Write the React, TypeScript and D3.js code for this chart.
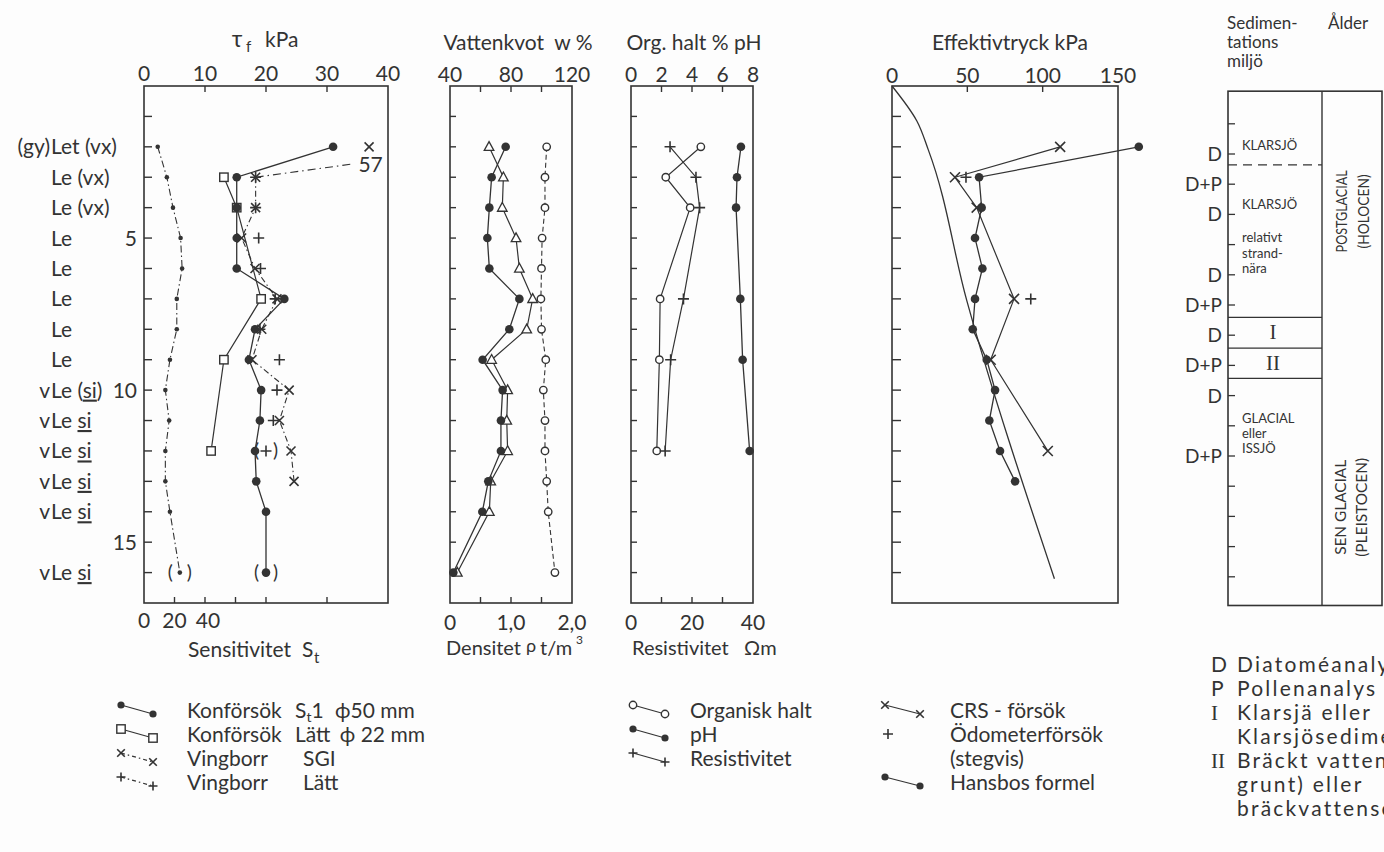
import React from "react";
import * as d3 from "d3";

const INK = "#333";
const FONT = "Lato, 'Open Sans', 'DejaVu Sans', sans-serif";
const SERIF = "'Liberation Serif', 'DejaVu Serif', serif";

// ---------- soil profile (depth, m) ----------
const soilDepths = [2, 3, 4, 5, 6, 7, 8, 9, 10, 11, 12, 13, 14, 16];
const soilLabels = [
  "(gy) Let (vx)", "Le (vx)", "Le (vx)", "Le", "Le", "Le", "Le", "Le",
  "vLe (_si_)", "vLe _si_", "vLe _si_", "vLe _si_", "vLe _si_", "vLe _si_",
];
const depthTickLabels = [5, 10, 15];
const depthTicks = [1, 2, 3, 4, 5, 6, 7, 8, 9, 10, 11, 12, 13, 14, 15, 16];

// ---------- panel 1: shear strength tau_f (kPa) and sensitivity ----------
const tauTicks = [0, 10, 20, 30, 40];
const sensTickLabels = [0, 20, 40];
const sensTicks = [20, 40, 60, 80, 120];
const sensDepths = [2, 3, 4, 5, 6, 7, 8, 9, 10, 11, 12, 13, 14, 16];
const sensValues = [9, 15, 19, 24, 25, 21.5, 21.5, 17, 14, 16.5, 14, 14, 17, 23.5];
const sensUncertainDepths = [16];
const kon50Depths = [2, 3, 4, 5, 6, 7, 8, 9, 10, 11, 12, 13, 14, 16];
const kon50Values = [31, 15.2, 15.2, 15.2, 15.2, 23, 18.2, 17.2, 19.2, 19, 18.2, 18.4, 20, 20];
const kon50UncertainDepths = [16];
const kon22Depths = [3, 4, 7, 9, 12];
const kon22Values = [13.1, 15.2, 19.2, 13.1, 11];
const sgiDepths = [3, 4, 5, 6, 7, 8, 9, 10, 11, 12, 13];
const sgiValues = [18.3, 18.3, 16, 18.2, 21.8, 19.3, 17.7, 23.8, 22.2, 24.1, 24.6];
const sgiOffScaleDepth = 2;
const sgiOffScaleValue = 57;
const lattDepths = [3, 4, 5, 6, 7, 8, 9, 10, 11, 12];
const lattValues = [18.3, 18.3, 18.8, 19.1, 21.5, 19, 22.2, 21.8, 21.2, 20];
const lattUncertainDepths = [12];

// ---------- panel 2: water content w % and density ----------
const wTickLabels = [40, 80, 120];
const wTicks = [60, 80, 100];
const rhoTickLabels = ["0", "1,0", "2,0"];
const rhoTickValues = [0, 1, 2];
const rhoTicks = [0.5, 1, 1.5];
const p2Depths = [2, 3, 4, 5, 6, 7, 8, 9, 10, 11, 12, 13, 14, 16];
const wValues = [76.5, 67.3, 65.8, 64.5, 65.8, 85.5, 78.9, 61.4, 74.5, 73.4, 73.4, 65.1, 61.2, 42.2];
const wLValues = [65.6, 75, 74.3, 83.3, 85.5, 94.2, 90.3, 67.3, 77.8, 77.2, 77.8, 66.7, 65.8, 44.8];
const rhoValues = [1.585, 1.557, 1.557, 1.51, 1.5, 1.49, 1.5, 1.57, 1.53, 1.557, 1.557, 1.585, 1.61, 1.72];

// ---------- panel 3: organic content, pH, resistivity ----------
const orgTickLabels = [0, 2, 4, 6, 8];
const orgTicks = [2, 4, 6];
const resTickLabels = [0, 20, 40];
const resTicks = [10, 20, 30];
const p3Depths = [2, 3, 4, 7, 9, 12];
const orgValues = [4.58, 2.28, 3.88, 1.91, 1.86, 1.69];
const phValues = [7.21, 6.95, 6.89, 7.17, 7.32, 7.78];
const resValues = [12.8, 21.3, 22.5, 17.2, 13, 11.2];

// ---------- panel 4: effective stress kPa ----------
const effTickLabels = [0, 50, 100, 150];
const effTicks = [50, 100];
const sigmaDepths = [0, 1.15, 2.1, 7.05, 16.2];
const sigmaValues = [0, 16.5, 24.1, 49.6, 107.8];
const hansDepths = [2, 3, 4, 5, 6, 7, 8, 9, 10, 11, 12, 13];
const hansValues = [163.8, 57.8, 59.5, 55.1, 60, 55.1, 53.6, 62.9, 68.4, 64.6, 71.7, 81.7];
const crsDepths = [2, 3, 4, 7, 9, 12];
const crsValues = [111.6, 41.8, 56.2, 81, 65.5, 103.4];
const oedDepths = [3, 7];
const oedValues = [49.1, 92.1];

// ---------- right panel: sedimentation environment / age ----------
const analysisDepths = [2, 3, 4, 6, 7, 8, 9, 10, 12];
const analysisLabels = ["D", "D+P", "D", "D", "D+P", "D", "D+P", "D", "D+P"];
const boundaryDepths = [2.36, 7.41, 8.43, 9.43];
const boundaryDashed = [true, false, false, false];
const envTexts = ["KLARSJÖ", "KLARSJÖ", "relativt", "strand-", "nära", "GLACIAL", "eller", "ISSJÖ"];
const envTextDepths = [1.7, 3.66, 4.75, 5.28, 5.78, 10.74, 11.24, 11.74];
const numeralTexts = ["I", "II"];
const numeralDepths = [7.9, 8.92];
const ageUpper = ["POSTGLACIAL", "(HOLOCEN)"];
const ageLower = ["SEN GLACIAL", "(PLEISTOCEN)"];
const ageUpperDepth = 3.9;
const ageLowerDepth = 13.7;

// ---------- legends ----------
const legend1Names = ["Konförsök", "Konförsök", "Vingborr", "Vingborr"];
const legend2Names = ["Organisk halt", "pH", "Resistivitet"];
const legend3Names = ["CRS - försök", "Ödometerförsök", "(stegvis)", "Hansbos formel"];
const legend4Symbols = ["D", "P", "I", "", "II", "", ""];
const legend4Texts = [
  "Diatoméanalys", "Pollenanalys", "Klarsjä eller", "Klarsjösediment",
  "Bräckt vatten (", "grunt) eller", "bräckvattensediment",
];

type P = [number, number];

const Dot = ({ x, y, r = 4.3 }: { x: number; y: number; r?: number }) => (
  <circle cx={x} cy={y} r={r} fill={INK} />
);
const ODot = ({ x, y }: { x: number; y: number }) => (
  <circle cx={x} cy={y} r={3.7} fill="#fff" stroke={INK} strokeWidth={1.4} />
);
const Sq = ({ x, y }: { x: number; y: number }) => (
  <rect x={x - 4.2} y={y - 4.2} width={8.4} height={8.4} fill="#fff" stroke={INK} strokeWidth={1.4} />
);
const Tri = ({ x, y }: { x: number; y: number }) => (
  <path d={`M${x},${y - 5.2}L${x + 4.8},${y + 3.6}L${x - 4.8},${y + 3.6}Z`} fill="#fff" stroke={INK} strokeWidth={1.3} />
);
const Cross = ({ x, y, s = 4.5 }: { x: number; y: number; s?: number }) => (
  <path d={`M${x - s},${y - s}L${x + s},${y + s}M${x - s},${y + s}L${x + s},${y - s}`} stroke={INK} strokeWidth={1.6} fill="none" />
);
const Plus = ({ x, y, s = 5.5 }: { x: number; y: number; s?: number }) => (
  <path d={`M${x - s},${y}L${x + s},${y}M${x},${y - s}L${x},${y + s}`} stroke={INK} strokeWidth={1.6} fill="none" />
);

export default function App() {
  const y = d3.scaleLinear().domain([0, 17]).range([86, 603]);
  const yR = d3.scaleLinear().domain([0, 17]).range([93.6, 607]);
  const xTau = d3.scaleLinear().domain([0, 40]).range([144, 388]);
  const xSens = d3.scaleLinear().domain([0, 160]).range([144, 388]);
  const xW = d3.scaleLinear().domain([40, 120]).range([450, 572]);
  const xRho = d3.scaleLinear().domain([0, 2]).range([450, 572]);
  const xOrg = d3.scaleLinear().domain([0, 8]).range([631, 753]);
  const xRes = d3.scaleLinear().domain([0, 40]).range([631, 753]);
  const xEff = d3.scaleLinear().domain([0, 150]).range([892, 1118]);
  const line = d3.line<P>();
  const curve = d3.line<P>().curve(d3.curveMonotoneY);

  const pts = (ds: number[], vs: number[], sx: (v: number) => number, sy = y): P[] =>
    ds.map((d, i) => [sx(vs[i]), sy(d)]);

  const top = y(0);
  const bot = y(17);

  const frame = (x0: number, x1: number, y0 = top, y1 = bot) => (
    <rect x={x0} y={y0} width={x1 - x0} height={y1 - y0} fill="none" stroke={INK} strokeWidth={1.6} />
  );
  const leftTicks = (x0: number, len: number, sy = y) =>
    depthTicks.map((d) => (
      <line key={"lt" + x0 + d} x1={x0} x2={x0 + len} y1={sy(d)} y2={sy(d)} stroke={INK} strokeWidth={1.4} />
    ));
  const topTicks = (sx: (v: number) => number, vals: number[]) =>
    vals.map((v) => <line key={"tt" + sx(v)} x1={sx(v)} x2={sx(v)} y1={top} y2={top + 6} stroke={INK} strokeWidth={1.4} />);
  const botTicks = (sx: (v: number) => number, vals: number[]) =>
    vals.map((v) => <line key={"bt" + sx(v)} x1={sx(v)} x2={sx(v)} y1={bot} y2={bot - 6} stroke={INK} strokeWidth={1.4} />);

  const txt = { fill: INK, fontFamily: FONT } as const;

  const soilLabel = (label: string, d: number, i: number) => {
    const li = label.indexOf("L");
    const prefix = label.slice(0, li).trim();
    const rest = label.slice(li);
    const parts = rest.split("_");
    return (
      <g key={"soil" + i}>
        {prefix && (
          <text x={50} y={y(d) + 7.5} textAnchor="end" fontSize={21} {...txt}>{prefix}</text>
        )}
        <text x={51} y={y(d) + 7.5} fontSize={21} {...txt} xmlSpace="preserve">
          {parts.map((p, k) => (
            <tspan key={k} style={k % 2 === 1 ? { textDecoration: "underline" } : undefined}>{p}</tspan>
          ))}
        </text>
      </g>
    );
  };

  const paren = (x: number, yy: number, key: string) => (
    <g key={key}>
      <text x={x - 7} y={yy + 6} textAnchor="end" fontSize={19} {...txt}>(</text>
      <text x={x + 7} y={yy + 6} textAnchor="start" fontSize={19} {...txt}>)</text>
    </g>
  );

  // legend rows
  const legRow = (i: number) => 710 + i * 24;
  const legRow4 = (i: number) => 664 + i * 24;

  const sgiTop: P = [xTau(36.9), y(sgiOffScaleDepth)];
  const sgiLabelEnd: P = [xTau(34), y(2.57)];

  return (
    <svg width={1384} height={852} style={{ position: "absolute", left: 0, top: 0, background: "#fdfdfd" }}>
      {/* ================= PANEL 1 ================= */}
      <text x={237} y={47} textAnchor="middle" fontSize={23} {...txt}>τ</text>
      <text x={246} y={52} fontSize={15} {...txt}>f</text>
      <text x={265} y={47} fontSize={21} {...txt}>kPa</text>
      {tauTicks.map((v) => (
        <text key={"tl" + v} x={xTau(v)} y={81} textAnchor="middle" fontSize={21} {...txt}>{v}</text>
      ))}
      {frame(144, 388)}
      {leftTicks(144, 8)}
      {topTicks(xTau, [10, 20, 30])}
      {botTicks(xSens, sensTicks)}
      {depthTickLabels.map((d) => (
        <text key={"dl" + d} x={137} y={y(d) + 7.5} textAnchor="end" fontSize={21} {...txt}>{d}</text>
      ))}
      {soilDepths.map((d, i) => soilLabel(soilLabels[i], d, i))}
      {sensTickLabels.map((v) => (
        <text key={"sl" + v} x={xSens(v) + (v === 40 ? 3 : 0)} y={628} textAnchor="middle" fontSize={21} {...txt}>{v}</text>
      ))}
      <text x={188} y={657} fontSize={21} {...txt}>Sensitivitet</text>
      <text x={302} y={657} fontSize={21} {...txt}>S</text>
      <text x={314} y={663} fontSize={15} {...txt}>t</text>

      {/* sensitivity */}
      <path d={line(pts(sensDepths, sensValues, xSens)) || ""} fill="none" stroke={INK} strokeWidth={1.1} strokeDasharray="7 3 1.5 3" />
      {sensDepths.map((d, i) => <Dot key={"sd" + i} x={xSens(sensValues[i])} y={y(d)} r={2.3} />)}
      {sensUncertainDepths.map((d) => paren(xSens(sensValues[sensDepths.indexOf(d)]), y(d), "sp" + d))}

      {/* kon 22 */}
      <path d={line(pts(kon22Depths, kon22Values, xTau)) || ""} fill="none" stroke={INK} strokeWidth={1.2} />
      {/* kon 50 */}
      <path d={line(pts(kon50Depths, kon50Values, xTau)) || ""} fill="none" stroke={INK} strokeWidth={1.3} />
      {/* SGI vane */}
      <path d={line(pts(sgiDepths, sgiValues, xTau)) || ""} fill="none" stroke={INK} strokeWidth={1.1} strokeDasharray="6 3 1.5 3" />
      <path d={line([[xTau(sgiValues[0]), y(sgiDepths[0])], sgiLabelEnd]) || ""} fill="none" stroke={INK} strokeWidth={1.1} strokeDasharray="8 4 1.5 4" />
      <Cross x={sgiTop[0]} y={sgiTop[1]} />
      <text x={sgiLabelEnd[0] + 7} y={sgiLabelEnd[1] + 8} fontSize={21} {...txt}>{sgiOffScaleValue}</text>

      {kon22Depths.map((d, i) => <Sq key={"k22" + i} x={xTau(kon22Values[i])} y={y(d)} />)}
      {kon50Depths.map((d, i) => <Dot key={"k50" + i} x={xTau(kon50Values[i])} y={y(d)} />)}
      {kon50UncertainDepths.map((d) => paren(xTau(kon50Values[kon50Depths.indexOf(d)]), y(d), "kp" + d))}
      {sgiDepths.map((d, i) => <Cross key={"sgi" + i} x={xTau(sgiValues[i])} y={y(d)} />)}
      {lattDepths.map((d, i) => <Plus key={"la" + i} x={xTau(lattValues[i])} y={y(d)} />)}
      {lattUncertainDepths.map((d) => paren(xTau(lattValues[lattDepths.indexOf(d)]), y(d), "lp" + d))}

      {/* ================= PANEL 2 ================= */}
      <text x={518} y={50} textAnchor="middle" fontSize={21} {...txt} xmlSpace="preserve">Vattenkvot  w %</text>
      {wTickLabels.map((v) => (
        <text key={"wl" + v} x={xW(v)} y={82} textAnchor="middle" fontSize={21} {...txt}>{v}</text>
      ))}
      {frame(450, 572)}
      {leftTicks(450, 6)}
      {topTicks(xW, wTicks)}
      {botTicks(xRho, rhoTicks)}
      {rhoTickValues.map((v, i) => (
        <text key={"rl" + v} x={xRho(v)} y={630} textAnchor="middle" fontSize={21} {...txt}>{rhoTickLabels[i]}</text>
      ))}
      <text x={446} y={655} fontSize={20} {...txt}>Densitet</text>
      <text x={526} y={652} fontSize={18} {...txt}>ρ</text>
      <text x={540} y={655} fontSize={20} {...txt}>t/m</text>
      <text x={576} y={644} fontSize={12} {...txt}>3</text>

      <path d={line(pts(p2Depths, rhoValues, xRho)) || ""} fill="none" stroke={INK} strokeWidth={1.1} strokeDasharray="5 3" />
      <path d={line(pts(p2Depths, wLValues, xW)) || ""} fill="none" stroke={INK} strokeWidth={1.2} />
      <path d={line(pts(p2Depths, wValues, xW)) || ""} fill="none" stroke={INK} strokeWidth={1.3} />
      {p2Depths.map((d, i) => <ODot key={"rho" + i} x={xRho(rhoValues[i])} y={y(d)} />)}
      {p2Depths.map((d, i) => <Tri key={"wl" + i} x={xW(wLValues[i])} y={y(d)} />)}
      {p2Depths.map((d, i) => <Dot key={"w" + i} x={xW(wValues[i])} y={y(d)} />)}

      {/* ================= PANEL 3 ================= */}
      <text x={694} y={50} textAnchor="middle" fontSize={21} {...txt} xmlSpace="preserve">Org. halt % pH</text>
      {orgTickLabels.map((v) => (
        <text key={"ol" + v} x={xOrg(v)} y={82} textAnchor="middle" fontSize={21} {...txt}>{v}</text>
      ))}
      {frame(631, 753)}
      {leftTicks(631, 6)}
      {topTicks(xOrg, orgTicks)}
      {botTicks(xRes, resTicks)}
      {resTickLabels.map((v) => (
        <text key={"resl" + v} x={xRes(v)} y={630} textAnchor="middle" fontSize={21} {...txt}>{v}</text>
      ))}
      <text x={632} y={655} fontSize={20} {...txt}>Resistivitet</text>
      <text x={744} y={655} fontSize={20} {...txt}>Ωm</text>

      <path d={line(pts(p3Depths, orgValues, xOrg)) || ""} fill="none" stroke={INK} strokeWidth={1.2} />
      <path d={line(pts(p3Depths, resValues, xRes)) || ""} fill="none" stroke={INK} strokeWidth={1.2} />
      <path d={line(pts(p3Depths, phValues, xOrg)) || ""} fill="none" stroke={INK} strokeWidth={1.3} />
      {p3Depths.map((d, i) => <ODot key={"org" + i} x={xOrg(orgValues[i])} y={y(d)} />)}
      {p3Depths.map((d, i) => <Plus key={"res" + i} x={xRes(resValues[i])} y={y(d)} />)}
      {p3Depths.map((d, i) => <Dot key={"ph" + i} x={xOrg(phValues[i])} y={y(d)} />)}

      {/* ================= PANEL 4 ================= */}
      <text x={1010} y={50} textAnchor="middle" fontSize={21} {...txt}>Effektivtryck kPa</text>
      {effTickLabels.map((v) => (
        <text key={"el" + v} x={xEff(v)} y={83} textAnchor="middle" fontSize={21} {...txt}>{v}</text>
      ))}
      {frame(892, 1118)}
      {leftTicks(892, 9)}
      {topTicks(xEff, effTicks)}
      <path d={curve(pts(sigmaDepths, sigmaValues, xEff)) || ""} fill="none" stroke={INK} strokeWidth={1.3} />
      <path d={line(pts(crsDepths, crsValues, xEff)) || ""} fill="none" stroke={INK} strokeWidth={1.2} />
      <path d={line(pts(hansDepths, hansValues, xEff)) || ""} fill="none" stroke={INK} strokeWidth={1.3} />
      {hansDepths.map((d, i) => <Dot key={"h" + i} x={xEff(hansValues[i])} y={y(d)} />)}
      {crsDepths.map((d, i) => <Cross key={"crs" + i} x={xEff(crsValues[i])} y={y(d)} s={5} />)}
      {oedDepths.map((d, i) => <Plus key={"oed" + i} x={xEff(oedValues[i])} y={y(d)} />)}

      {/* ================= RIGHT PANEL ================= */}
      <text x={1227} y={29} fontSize={17} {...txt}>Sedimen-</text>
      <text x={1328} y={29} fontSize={17} {...txt}>Ålder</text>
      <text x={1227} y={48} fontSize={17} {...txt}>tations</text>
      <text x={1227} y={67} fontSize={17} {...txt}>miljö</text>
      <rect x={1228} y={yR(-0.08)} width={1382 - 1228} height={yR(16.95) - yR(-0.08)} fill="none" stroke={INK} strokeWidth={1.6} />
      <line x1={1322} x2={1322} y1={yR(-0.08)} y2={yR(16.95)} stroke={INK} strokeWidth={1.4} />
      {depthTicks.map((d) => (
        <line key={"rt" + d} x1={1228} x2={1235} y1={yR(d)} y2={yR(d)} stroke={INK} strokeWidth={1.3} />
      ))}
      {boundaryDepths.map((d, i) => (
        <line key={"bd" + i} x1={1228} x2={1322} y1={yR(d)} y2={yR(d)} stroke={INK} strokeWidth={1.3}
          strokeDasharray={boundaryDashed[i] ? "9 6" : undefined} />
      ))}
      {analysisDepths.map((d, i) => (
        <text key={"an" + i} x={1222} y={yR(d) + 7} textAnchor="end" fontSize={19} {...txt}>{analysisLabels[i]}</text>
      ))}
      {envTexts.map((t, i) => (
        <text key={"env" + i} x={1242} y={yR(envTextDepths[i]) + 5} fontSize={13} {...txt}>{t}</text>
      ))}
      {numeralTexts.map((t, i) => (
        <text key={"num" + i} x={1273} y={yR(numeralDepths[i]) + 7} textAnchor="middle" fontSize={21} fill={INK} fontFamily={SERIF}>{t}</text>
      ))}
      <g transform={`translate(1341,${yR(ageUpperDepth)}) rotate(-90)`}>
        <text x={0} y={0} textAnchor="middle" dominantBaseline="central" fontSize={15} textLength={82} lengthAdjust="spacingAndGlyphs" {...txt}>{ageUpper[0]}</text>
        <text x={0} y={22} textAnchor="middle" dominantBaseline="central" fontSize={15} textLength={74} lengthAdjust="spacingAndGlyphs" {...txt}>{ageUpper[1]}</text>
      </g>
      <g transform={`translate(1340,${yR(ageLowerDepth)}) rotate(-90)`}>
        <text x={0} y={0} textAnchor="middle" dominantBaseline="central" fontSize={15} textLength={95} lengthAdjust="spacingAndGlyphs" {...txt}>{ageLower[0]}</text>
        <text x={0} y={21} textAnchor="middle" dominantBaseline="central" fontSize={15} textLength={99} lengthAdjust="spacingAndGlyphs" {...txt}>{ageLower[1]}</text>
      </g>

      {/* ================= LEGENDS ================= */}
      {legend1Names.map((n, i) => {
        const c = legRow(i);
        const a: P = [121, c - 5];
        const b: P = [153, c + 4];
        const dash = i >= 2 ? "4 3 1.5 3" : undefined;
        return (
          <g key={"lg1" + i}>
            <path d={line([a, b]) || ""} stroke={INK} strokeWidth={1.2} strokeDasharray={dash} fill="none" />
            {i === 0 && (<><Dot x={a[0]} y={a[1]} r={3.6} /><Dot x={b[0]} y={b[1]} r={3.6} /></>)}
            {i === 1 && (<><Sq x={a[0]} y={a[1]} /><Sq x={b[0]} y={b[1]} /></>)}
            {i === 2 && (<><Cross x={a[0]} y={a[1]} s={3.8} /><Cross x={b[0]} y={b[1]} s={3.8} /></>)}
            {i === 3 && (<><Plus x={a[0]} y={a[1]} s={4.5} /><Plus x={b[0]} y={b[1]} s={4.5} /></>)}
            <text x={187} y={c + 7.5} fontSize={21} {...txt}>{n}</text>
          </g>
        );
      })}
      <text x={295} y={legRow(0) + 7.5} fontSize={21} {...txt}>
        S<tspan dy={4} fontSize={14}>t</tspan><tspan dy={-4}>1 </tspan><tspan dx={6}>ϕ50 mm</tspan>
      </text>
      <text x={295} y={legRow(1) + 7.5} fontSize={21} {...txt}>Lätt <tspan dx={4}>ϕ 22 mm</tspan></text>
      <text x={303} y={legRow(2) + 7.5} fontSize={21} {...txt}>SGI</text>
      <text x={303} y={legRow(3) + 7.5} fontSize={21} {...txt}>Lätt</text>

      {legend2Names.map((n, i) => {
        const c = legRow(i);
        const a: P = [633, c - 5];
        const b: P = [665, c + 4];
        return (
          <g key={"lg2" + i}>
            <path d={line([a, b]) || ""} stroke={INK} strokeWidth={1.2} fill="none" />
            {i === 0 && (<><ODot x={a[0]} y={a[1]} /><ODot x={b[0]} y={b[1]} /></>)}
            {i === 1 && (<><Dot x={a[0]} y={a[1]} r={3.6} /><Dot x={b[0]} y={b[1]} r={3.6} /></>)}
            {i === 2 && (<><Plus x={a[0]} y={a[1]} s={4.5} /><Plus x={b[0]} y={b[1]} s={4.5} /></>)}
            <text x={690} y={c + 7.5} fontSize={21} {...txt}>{n}</text>
          </g>
        );
      })}

      {legend3Names.map((n, i) => {
        const c = legRow(i);
        const a: P = [885, c - 5];
        const b: P = [920, c + 4];
        return (
          <g key={"lg3" + i}>
            {(i === 0 || i === 3) && <path d={line([a, b]) || ""} stroke={INK} strokeWidth={1.2} fill="none" />}
            {i === 0 && (<><Cross x={a[0]} y={a[1]} s={3.8} /><Cross x={b[0]} y={b[1]} s={3.8} /></>)}
            {i === 1 && <Plus x={888} y={c} s={5} />}
            {i === 3 && (<><Dot x={a[0]} y={a[1]} r={3.6} /><Dot x={b[0]} y={b[1]} r={3.6} /></>)}
            <text x={950} y={c + 7.5} fontSize={21} {...txt}>{n}</text>
          </g>
        );
      })}

      {legend4Texts.map((t, i) => {
        const c = legRow4(i);
        const sym = legend4Symbols[i];
        const isRoman = sym === "I" || sym === "II";
        return (
          <g key={"lg4" + i}>
            {sym && (
              <text x={1211} y={c + 7.5} fontSize={21} fill={INK} fontFamily={isRoman ? SERIF : FONT}>{sym}</text>
            )}
            <text x={1237} y={c + 7.5} fontSize={21} letterSpacing={2.2} {...txt}>{t}</text>
          </g>
        );
      })}
    </svg>
  );
}
